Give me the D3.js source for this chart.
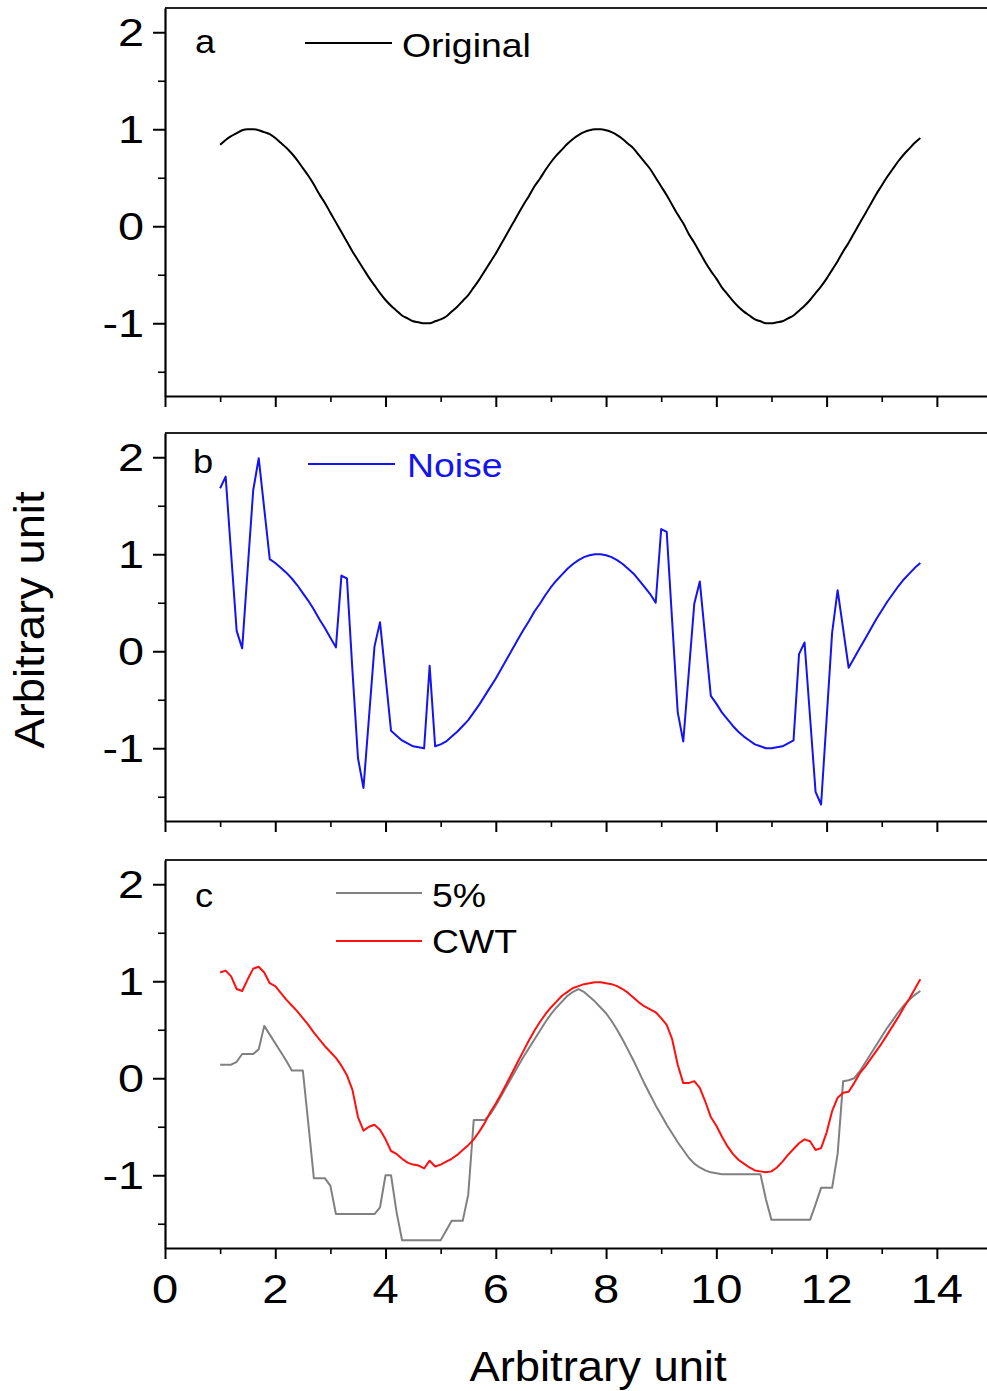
<!DOCTYPE html>
<html lang="en">
<head>
<meta charset="UTF-8">
<title>Original / Noise / CWT</title>
<script src="https://d3js.org/d3.v7.min.js"></script>
<style>
  body { margin: 0; background: #fff; }
  text { font-family: "Liberation Sans", Arial, sans-serif; fill: #000; }
</style>
</head>
<body>
<div id="chart"></div>
<script>
// x positions of the samples
const xs = [
  1.0, 1.1, 1.2, 1.3, 1.4, 1.5, 1.6, 1.7, 1.8, 1.9,
  2.0, 2.1, 2.2, 2.3, 2.4, 2.5, 2.6, 2.7, 2.8, 2.9,
  3.0, 3.1, 3.2, 3.3, 3.4, 3.5, 3.6, 3.7, 3.8, 3.9,
  4.0, 4.1, 4.2, 4.3, 4.4, 4.5, 4.6, 4.7, 4.8, 4.9,
  5.0, 5.1, 5.2, 5.3, 5.4, 5.5, 5.6, 5.7, 5.8, 5.9,
  6.0, 6.1, 6.2, 6.3, 6.4, 6.5, 6.6, 6.7, 6.8, 6.9,
  7.0, 7.1, 7.2, 7.3, 7.4, 7.5, 7.6, 7.7, 7.8, 7.9,
  8.0, 8.1, 8.2, 8.3, 8.4, 8.5, 8.6, 8.7, 8.8, 8.9,
  9.0, 9.1, 9.2, 9.3, 9.4, 9.5, 9.6, 9.7, 9.8, 9.9,
  10.0, 10.1, 10.2, 10.3, 10.4, 10.5, 10.6, 10.7, 10.8, 10.9,
  11.0, 11.1, 11.2, 11.3, 11.4, 11.5, 11.6, 11.7, 11.8, 11.9,
  12.0, 12.1, 12.2, 12.3, 12.4, 12.5, 12.6, 12.7, 12.8, 12.9,
  13.0, 13.1, 13.2, 13.3, 13.4, 13.5, 13.6, 13.7
];

// panel a
const original = [
  0.84, 0.89, 0.93, 0.96, 0.99, 1.00, 1.00, 0.99, 0.97, 0.95,
  0.91, 0.86, 0.81, 0.75, 0.68, 0.60, 0.52, 0.43, 0.33, 0.24,
  0.14, 0.04, -0.06, -0.16, -0.26, -0.35, -0.44, -0.53, -0.61, -0.69,
  -0.76, -0.82, -0.87, -0.92, -0.95, -0.98, -0.99, -1.00, -1.00, -0.98,
  -0.96, -0.93, -0.88, -0.83, -0.77, -0.71, -0.63, -0.55, -0.46, -0.37,
  -0.28, -0.18, -0.08, 0.02, 0.12, 0.22, 0.31, 0.41, 0.49, 0.58,
  0.66, 0.73, 0.79, 0.85, 0.90, 0.94, 0.97, 0.99, 1.00, 1.00,
  0.99, 0.97, 0.94, 0.90, 0.85, 0.80, 0.73, 0.66, 0.59, 0.50,
  0.41, 0.32, 0.22, 0.12, 0.03, -0.08, -0.17, -0.27, -0.37, -0.46,
  -0.54, -0.63, -0.70, -0.77, -0.83, -0.88, -0.92, -0.96, -0.98, -1.00,
  -1.00, -0.99, -0.98, -0.95, -0.92, -0.87, -0.82, -0.76, -0.69, -0.62,
  -0.54, -0.45, -0.36, -0.26, -0.17, -0.07, 0.03, 0.13, 0.23, 0.33,
  0.42, 0.51, 0.59, 0.67, 0.74, 0.80, 0.86, 0.91
];

// panel b
const noise = [
  1.68, 1.80, 1.00, 0.21, 0.03, 0.85, 1.66, 1.99, 1.47, 0.95,
  0.91, 0.86, 0.81, 0.75, 0.68, 0.60, 0.52, 0.43, 0.33, 0.24,
  0.14, 0.04, 0.78, 0.75, -0.20, -1.10, -1.41, -0.68, 0.05, 0.30,
  -0.26, -0.82, -0.87, -0.92, -0.95, -0.98, -0.99, -1.00, -0.15, -0.98,
  -0.96, -0.93, -0.88, -0.83, -0.77, -0.71, -0.63, -0.55, -0.46, -0.37,
  -0.28, -0.18, -0.08, 0.02, 0.12, 0.22, 0.31, 0.41, 0.49, 0.58,
  0.66, 0.73, 0.79, 0.85, 0.90, 0.94, 0.97, 0.99, 1.00, 1.00,
  0.99, 0.97, 0.94, 0.90, 0.85, 0.80, 0.73, 0.66, 0.59, 0.50,
  1.26, 1.23, 0.30, -0.63, -0.93, -0.22, 0.49, 0.72, 0.13, -0.46,
  -0.54, -0.63, -0.70, -0.77, -0.83, -0.88, -0.92, -0.96, -0.98, -1.00,
  -1.00, -0.99, -0.98, -0.95, -0.92, -0.03, 0.09, -0.68, -1.45, -1.58,
  -0.70, 0.19, 0.63, 0.23, -0.17, -0.07, 0.03, 0.13, 0.23, 0.33,
  0.42, 0.51, 0.59, 0.67, 0.74, 0.80, 0.86, 0.91
];

// panel c, grey curve
const fivePct = [
  0.14, 0.14, 0.14, 0.17, 0.25, 0.25, 0.25, 0.30, 0.54, 0.45,
  0.36, 0.27, 0.18, 0.08, 0.08, 0.08, -0.47, -1.03, -1.03, -1.03,
  -1.11, -1.40, -1.40, -1.40, -1.40, -1.40, -1.40, -1.40, -1.40, -1.33,
  -1.00, -1.00, -1.38, -1.67, -1.67, -1.67, -1.67, -1.67, -1.67, -1.67,
  -1.67, -1.57, -1.47, -1.47, -1.47, -1.20, -0.43, -0.43, -0.43, -0.37,
  -0.28, -0.18, -0.08, 0.02, 0.12, 0.22, 0.31, 0.40, 0.49, 0.58,
  0.66, 0.73, 0.79, 0.85, 0.89, 0.92, 0.89, 0.84, 0.79, 0.73,
  0.67, 0.59, 0.50, 0.40, 0.29, 0.18, 0.06, -0.06, -0.17, -0.28,
  -0.38, -0.48, -0.57, -0.66, -0.74, -0.82, -0.88, -0.92, -0.95, -0.97,
  -0.98, -0.99, -0.99, -0.99, -0.99, -0.99, -0.99, -0.99, -0.99, -1.25,
  -1.46, -1.46, -1.46, -1.46, -1.46, -1.46, -1.46, -1.46, -1.30, -1.13,
  -1.13, -1.13, -0.78, -0.03, -0.02, 0.00, 0.07, 0.16, 0.25, 0.34,
  0.43, 0.52, 0.60, 0.68, 0.75, 0.81, 0.86, 0.90
];

// panel c, red curve
const cwt = [
  1.09, 1.11, 1.05, 0.92, 0.90, 1.02, 1.13, 1.15, 1.09, 0.98,
  0.95, 0.88, 0.81, 0.75, 0.69, 0.62, 0.55, 0.47, 0.40, 0.33,
  0.27, 0.21, 0.13, 0.03, -0.12, -0.40, -0.54, -0.50, -0.48, -0.53,
  -0.63, -0.75, -0.78, -0.83, -0.87, -0.89, -0.90, -0.93, -0.85, -0.91,
  -0.89, -0.86, -0.83, -0.79, -0.74, -0.69, -0.63, -0.55, -0.46, -0.35,
  -0.26, -0.16, -0.05, 0.06, 0.17, 0.28, 0.39, 0.49, 0.58, 0.66,
  0.73, 0.79, 0.85, 0.89, 0.93, 0.95, 0.97, 0.98, 0.99, 0.99,
  0.98, 0.97, 0.95, 0.92, 0.88, 0.83, 0.78, 0.74, 0.71, 0.68,
  0.62, 0.55, 0.40, 0.14, -0.05, -0.05, -0.03, -0.10, -0.24, -0.40,
  -0.49, -0.60, -0.70, -0.78, -0.84, -0.88, -0.92, -0.95, -0.96, -0.97,
  -0.96, -0.92, -0.86, -0.79, -0.73, -0.67, -0.63, -0.65, -0.74, -0.72,
  -0.56, -0.34, -0.20, -0.15, -0.14, -0.05, 0.05, 0.12, 0.20, 0.28,
  0.36, 0.45, 0.54, 0.63, 0.73, 0.82, 0.92, 1.02
];

const yMajor = [2, 1, 0, -1];
const yMinor = [1.5, 0.5, -0.5, -1.5];
const xMajor = [0, 2, 4, 6, 8, 10, 12, 14];
const xMinor = [1, 3, 5, 7, 9, 11, 13];
const axisTitle = 'Arbitrary unit';

const W = 987, H = 1391;
const svg = d3.select('#chart').append('svg').attr('width', W).attr('height', H);

const x = d3.scaleLinear().domain([0, 15]).range([165, 992]);
const panelH = 388;

const panels = [
  { top: 8, letter: 'a', letterPos: [195, 53],
    series: [{ values: original, color: '#000', name: 'Original', leg: [305, 392, 43], text: [402, 57], tc: '#000', smooth: true }] },
  { top: 433, letter: 'b', letterPos: [193, 473],
    series: [{ values: noise, color: '#1414f0', name: 'Noise', leg: [308, 395, 464], text: [407, 477], tc: '#1414f0' }] },
  { top: 860, letter: 'c', letterPos: [195, 907], xLabels: true,
    series: [
      { values: fivePct, color: '#808080', name: '5%', leg: [336, 422, 893], text: [432, 907], tc: '#000' },
      { values: cwt, color: '#ff1010', name: 'CWT', leg: [336, 422, 941], text: [432, 953], tc: '#000' }
    ] }
];

function stretched(g, str, px, py, size, sx, anchor) {
  return g.append('text')
    .attr('transform', `translate(${px},${py}) scale(${sx},1)`)
    .attr('text-anchor', anchor || 'start')
    .style('font-size', size + 'px')
    .text(str);
}

panels.forEach(p => {
  const y = d3.scaleLinear().domain([-1.75, 2.25]).range([p.top + panelH, p.top]);
  const g = svg.append('g');

  // top + right frame
  g.append('path')
    .attr('d', `M${x(0)},${p.top}H${x(15)}V${p.top + panelH}`)
    .attr('fill', 'none').attr('stroke', '#222').attr('stroke-width', 2);

  // left axis
  const yMin = g.append('g').attr('transform', `translate(${x(0)},0)`)
    .call(d3.axisLeft(y).tickValues(yMinor).tickSize(7).tickSizeOuter(0).tickFormat(''));
  yMin.select('.domain').remove();
  yMin.selectAll('line').attr('stroke-width', 1.6);
  const yMaj = g.append('g').attr('transform', `translate(${x(0)},0)`)
    .call(d3.axisLeft(y).tickValues(yMajor).tickSize(12).tickSizeOuter(0).tickFormat(''));
  yMaj.select('.domain').attr('stroke-width', 2.2);
  yMaj.selectAll('line').attr('stroke-width', 2);

  // bottom axis
  const xMin = g.append('g').attr('transform', `translate(0,${p.top + panelH})`)
    .call(d3.axisBottom(x).tickValues(xMinor).tickSize(6).tickSizeOuter(0).tickFormat(''));
  xMin.select('.domain').remove();
  xMin.selectAll('line').attr('stroke-width', 1.6);
  const xMaj = g.append('g').attr('transform', `translate(0,${p.top + panelH})`)
    .call(d3.axisBottom(x).tickValues(xMajor).tickSize(11).tickSizeOuter(0).tickFormat(''));
  xMaj.select('.domain').attr('stroke-width', 2.2);
  xMaj.selectAll('line').attr('stroke-width', 2);

  // y tick labels
  yMajor.forEach(v => {
    stretched(g, String(v), 144, y(v) + 14, 39, 1.2, 'end');
  });

  if (p.xLabels) {
    xMajor.forEach(v => {
      stretched(g, String(v), x(v), p.top + panelH + 55, 41, 1.15, 'middle');
    });
  }

  // curves
  p.series.forEach(s => {
    const line = d3.line()
      .x((d, i) => x(xs[i]))
      .y(d => y(d))
      .curve(s.smooth ? d3.curveMonotoneX : d3.curveLinear);
    g.append('path').datum(s.values)
      .attr('d', line)
      .attr('fill', 'none')
      .attr('stroke', s.color)
      .attr('stroke-width', 2)
      .attr('stroke-linejoin', 'round');

    g.append('line')
      .attr('x1', s.leg[0]).attr('x2', s.leg[1])
      .attr('y1', s.leg[2]).attr('y2', s.leg[2])
      .attr('stroke', s.color).attr('stroke-width', 2);
    stretched(g, s.name, s.text[0], s.text[1], 34, 1.1).style('fill', s.tc);
  });

  stretched(g, p.letter, p.letterPos[0], p.letterPos[1], 33, 1.1);
});

// axis titles
stretched(svg, axisTitle, 598, 1381, 42, 1.08, 'middle');
svg.append('text')
  .attr('transform', 'translate(44,620) rotate(-90) scale(1.08,1)')
  .attr('text-anchor', 'middle')
  .style('font-size', '42px')
  .text(axisTitle);
</script>
</body>
</html>
